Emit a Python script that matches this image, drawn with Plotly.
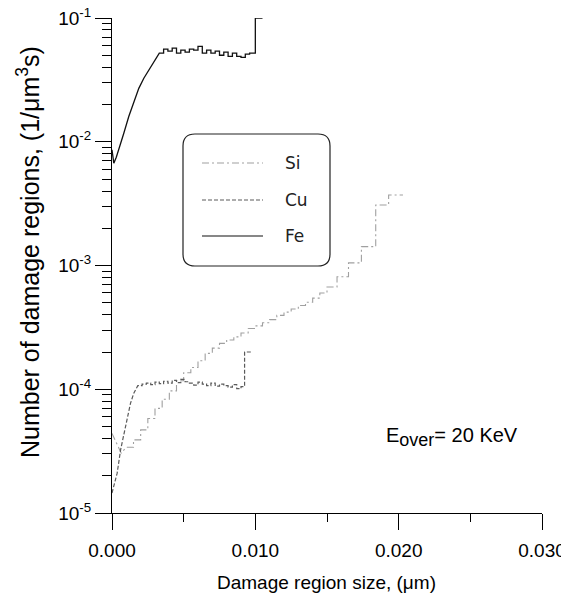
import plotly.graph_objects as go

# ---------------- data ----------------
fe_curve_x = [0.0, 0.00006, 0.000126, 0.00030, 0.000475, 0.000823, 0.00117, 0.00152, 0.00187, 0.00222, 0.00257, 0.00292, 0.00327]
fe_curve_y = [0.0086, 0.0072, 0.0067, 0.0075, 0.0086, 0.0117, 0.0160, 0.0211, 0.0270, 0.0326, 0.0380, 0.0444, 0.0519]
fe_step_x = [0.0033, 0.0036, 0.0039, 0.0042, 0.0045, 0.0048, 0.0051, 0.0054, 0.0057, 0.0060, 0.0063, 0.0066,
             0.0069, 0.0072, 0.0075, 0.0078, 0.0081, 0.0084, 0.0087, 0.0090, 0.0093, 0.0096, 0.0100]
fe_step_y = [0.052, 0.056, 0.054, 0.057, 0.052, 0.055, 0.053, 0.056, 0.055, 0.059, 0.052, 0.055,
             0.052, 0.054, 0.050, 0.053, 0.049, 0.052, 0.049, 0.048, 0.051, 0.052, 0.100]
fe_end = 0.0105

cu_curve_x = [0.0, 0.00036, 0.0006, 0.00083, 0.00106, 0.00129, 0.00152, 0.00176]
cu_curve_y = [1.45e-5, 2.1e-5, 3.24e-5, 4.42e-5, 6.0e-5, 7.7e-5, 9.3e-5, 1.05e-4]
cu_step_x = [0.0018, 0.0021, 0.0024, 0.0027, 0.0030, 0.0033, 0.0036, 0.0039, 0.0042, 0.0045, 0.0048, 0.0051,
             0.0054, 0.0057, 0.0060, 0.0063, 0.0066, 0.0069, 0.0072, 0.0075, 0.0078, 0.0081, 0.0084, 0.0087,
             0.0090, 0.00925]
cu_step_y = [1.07e-4, 1.10e-4, 1.12e-4, 1.09e-4, 1.14e-4, 1.11e-4, 1.16e-4, 1.12e-4, 1.18e-4, 1.13e-4, 1.20e-4, 1.15e-4,
             1.12e-4, 1.08e-4, 1.14e-4, 1.10e-4, 1.07e-4, 1.12e-4, 1.06e-4, 1.10e-4, 1.07e-4, 1.04e-4, 1.09e-4, 1.01e-4,
             1.05e-4, 2.0e-4]
cu_end = 0.0097

si_curve_x = [0.0, 0.00064]
si_curve_y = [4.4e-5, 3.05e-5]
si_step_x = [0.0010, 0.0015, 0.0020, 0.0025, 0.0030, 0.0035, 0.0040, 0.0045, 0.0050, 0.0055, 0.0060, 0.0065,
             0.0070, 0.0075, 0.0080, 0.0085, 0.0090, 0.0095, 0.0100, 0.0105, 0.0110, 0.0115, 0.0120, 0.0125,
             0.0130, 0.0135, 0.0140, 0.0145, 0.0150, 0.0157, 0.0165, 0.0174, 0.0184, 0.0193]
si_step_y = [3.4e-5, 3.9e-5, 4.7e-5, 5.8e-5, 7.0e-5, 8.3e-5, 9.7e-5, 1.17e-4, 1.36e-4, 1.50e-4, 1.70e-4, 1.95e-4,
             2.15e-4, 2.35e-4, 2.50e-4, 2.65e-4, 2.85e-4, 3.10e-4, 3.25e-4, 3.45e-4, 3.65e-4, 3.95e-4, 4.20e-4, 4.45e-4,
             4.75e-4, 5.05e-4, 5.45e-4, 6.0e-4, 6.7e-4, 8.1e-4, 1.05e-3, 1.42e-3, 3.08e-3, 3.71e-3]
si_end = 0.0203

y_tickvals = [1e-5, 1e-4, 1e-3, 1e-2, 1e-1]
y_ticktext = ["10<sup>-5</sup>", "10<sup>-4</sup>", "10<sup>-3</sup>", "10<sup>-2</sup>", "10<sup>-1</sup>"]
x_tickvals = [0.0, 0.010, 0.020, 0.030]
x_ticktext = ["0.000", "0.010", "0.020", "0.030"]


def build(curve_x, curve_y, step_x, step_y, end):
    xs, ys = list(curve_x), list(curve_y)
    edges = list(step_x) + [end]
    for i, v in enumerate(step_y):
        xs += [edges[i], edges[i + 1]]
        ys += [v, v]
    return xs, ys


FONT = "Liberation Sans, Arial, sans-serif"
LFONT = "DejaVu Sans, sans-serif"
fig = go.Figure()

sx, sy = build(si_curve_x, si_curve_y, si_step_x, si_step_y, si_end)
fig.add_trace(go.Scatter(x=sx, y=sy, mode="lines", name="Si",
                         line=dict(color="#a0a0a0", width=1.1, dash="7px,3px,2px,3px")))
cx, cy = build(cu_curve_x, cu_curve_y, cu_step_x, cu_step_y, cu_end)
fig.add_trace(go.Scatter(x=cx, y=cy, mode="lines", name="Cu",
                         line=dict(color="#5a5a5a", width=1.2, dash="4px,2px")))
fx, fy = build(fe_curve_x, fe_curve_y, fe_step_x, fe_step_y, fe_end)
fig.add_trace(go.Scatter(x=fx, y=fy, mode="lines", name="Fe",
                         line=dict(color="#111111", width=1.3)))

# page geometry: the page body has an 8px margin
OFF = 8
L, R, T, B = 112, 542, 18, 513          # plot area in page pixels
FW, FH = 569 - OFF, 597 - OFF           # figure size
W, H = R - L, B - T


def px(x):
    return (x - L) / W


def py(y):
    return (B - y) / H


x0, x1, y0, y1 = px(183), px(330), py(134), py(266)
rx, ry = 12 / W, 12 / H
path = (f"M {x0+rx},{y0} L {x1-rx},{y0} Q {x1},{y0} {x1},{y0-ry} "
        f"L {x1},{y1+ry} Q {x1},{y1} {x1-rx},{y1} L {x0+rx},{y1} "
        f"Q {x0},{y1} {x0},{y1+ry} L {x0},{y0-ry} Q {x0},{y0} {x0+rx},{y0} Z")
shapes = [dict(type="path", path=path, xref="paper", yref="paper",
               line=dict(color="#222222", width=1.2), fillcolor="rgba(0,0,0,0)")]
legend_items = [("Si", 163, "#a0a0a0", "7px,3px,2px,3px"),
                ("Cu", 200, "#5a5a5a", "4px,2px"),
                ("Fe", 236, "#111111", "solid")]
annotations = []
for name, yy, col, dash in legend_items:
    shapes.append(dict(type="line", xref="paper", yref="paper",
                       x0=px(202), x1=px(263), y0=py(yy), y1=py(yy),
                       line=dict(color=col, width=1.2, dash=dash)))
    annotations.append(dict(text=name, xref="paper", yref="paper", x=px(283), y=py(yy),
                            xanchor="left", yanchor="middle", showarrow=False,
                            font=dict(family=LFONT, size=17, color="#222222")))

annotations.append(dict(text="E<sub><span style='font-size:18px'>over</span></sub>= 20 KeV",
                        xref="paper", yref="paper",
                        x=px(384), y=py(437), xanchor="left", yanchor="middle", showarrow=False,
                        font=dict(family=FONT, size=20, color="black")))
annotations.append(dict(text="Number of damage regions, (1/\u03bcm<sup>3</sup>s)", xref="paper", yref="paper",
                        x=px(28), y=py(252), xanchor="center", yanchor="middle", textangle=-90,
                        showarrow=False, font=dict(family=FONT, size=25, color="black")))
annotations.append(dict(text="Damage region size, (\u03bcm)", xref="paper", yref="paper",
                        x=px(326), y=py(582), xanchor="center", yanchor="middle",
                        showarrow=False, font=dict(family=FONT, size=19, color="black")))

minor_y = [k * 10 ** n for n in range(-5, -1) for k in range(2, 10)]

fig.update_layout(
    width=FW, height=FH,
    margin=dict(l=L - OFF, r=FW - (R - OFF), t=T - OFF, b=FH - (B - OFF), autoexpand=False),
    plot_bgcolor="white", paper_bgcolor="white",
    showlegend=False,
    shapes=shapes, annotations=annotations,
    font=dict(family=FONT, size=19, color="black"),
    xaxis=dict(range=[0, 0.030], tickmode="array", tickvals=x_tickvals, ticktext=x_ticktext,
               ticks="outside", ticklen=16, tickwidth=1, tickcolor="black", automargin=False,
               showline=True, linecolor="black", linewidth=1, showgrid=False, zeroline=False,
               ticklabelstandoff=4, ticklabeloverflow="allow",
               minor=dict(tickmode="linear", tick0=0.005, dtick=0.01, ticks="outside", ticklen=8,
                          tickwidth=1, tickcolor="black", showgrid=False)),
    yaxis=dict(type="log", range=[-5, -1], tickmode="array", tickvals=y_tickvals, ticktext=y_ticktext,
               ticks="outside", ticklen=16, tickwidth=1, tickcolor="black", automargin=False,
               showline=True, linecolor="black", linewidth=1, showgrid=False, zeroline=False,
               tickfont=dict(size=19), ticklabeloverflow="allow",
               minor=dict(tickmode="array", tickvals=minor_y, ticks="outside", ticklen=9,
                          tickwidth=1, tickcolor="black", showgrid=False)),
)

fig.write_html("out.html")
